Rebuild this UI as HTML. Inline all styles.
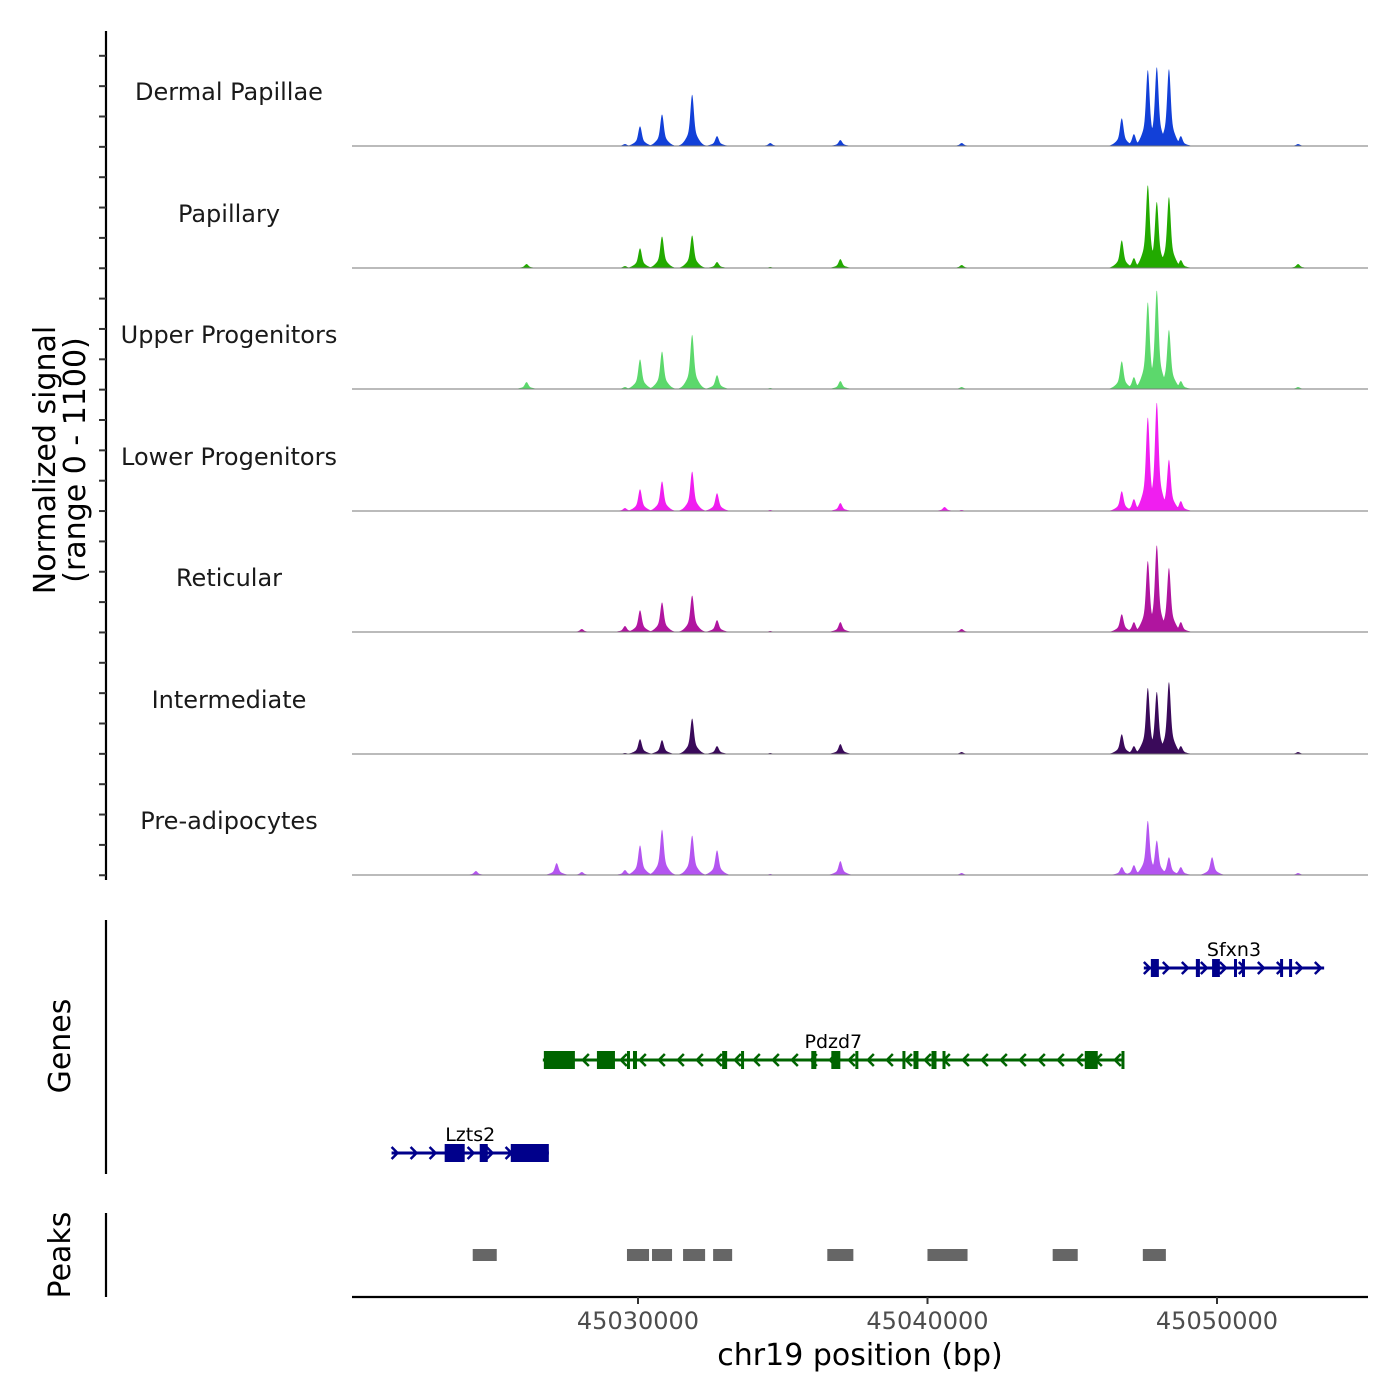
<!DOCTYPE html>
<html><head><meta charset="utf-8"><style>
body{margin:0;background:#fff;}
svg{display:block;font-family:"DejaVu Sans","Liberation Sans",sans-serif;}
</style></head><body>
<svg id="c" width="1400" height="1400" viewBox="0 0 1400 1400"></svg>
<script>
const trackNames=["Dermal Papillae","Papillary","Upper Progenitors","Lower Progenitors","Reticular","Intermediate","Pre-adipocytes"];
const trackColors=["#1240d8","#22aa00","#5cd86c","#f01ef0","#b0159f","#3a0a5a","#b455f0"];
const peakPos=[45024400,45026150,45027190,45028060,45029550,45030070,45030830,45031870,45032730,45034570,45036990,45040590,45041180,45046710,45047130,45047610,45047920,45048340,45048750,45049830,45052800];
const T1=[0,0,0,0,18,180,288,468,90,27,54,0,27,252,108,693,720,702,90,0,18];
const T2=[0,36,0,0,18,180,288,297,54,9,81,0,27,252,90,756,603,648,72,0,36];
const T3=[0,63,0,0,18,270,342,495,126,9,72,0,18,252,108,792,900,540,72,0,18];
const T4=[0,0,0,0,27,198,270,360,162,9,72,36,9,180,108,855,990,468,90,0,0];
const T5=[0,0,0,27,54,198,270,333,108,9,90,0,27,162,90,648,792,585,90,0,0];
const T6=[0,0,0,0,9,135,126,324,72,9,90,0,18,180,72,603,567,657,72,0,18];
const T7=[36,0,108,27,45,270,414,360,225,9,126,0,18,72,90,495,315,162,72,162,18];
const tracks=[T1,T2,T3,T4,T5,T6,T7];
const xTicks=[45030000,45040000,45050000];
const peakStart=[45024291,45029619,45030484,45031557,45032595,45036539,45039999,45044324,45047438];
const peakEnd=[45025121,45030381,45031176,45032318,45033252,45037439,45041383,45045189,45048234];
const geneNames=["Sfxn3","Pdzd7","Lzts2"];
const geneColors=["#00008b","#006400","#00008b"];
const geneStrand=[1,-1,1];
const geneStart=[45047473,45026713,45021488];
const geneEnd=[45053701,45046781,45026920];
const geneRow=[968,1060,1153];
const geneExons=[
 [[45047715,45047992],[45049270,45049410],[45049830,45050100],[45050587,45050656],[45050863,45050933],[45052179,45052248],[45052490,45052560]],
 [[45026748,45027820],[45028581,45029204],[45029619,45029700],[45029827,45029965],[45032906,45033080],[45033560,45033630],[45035986,45036160],[45036678,45036989],[45037508,45037578],[45039134,45039200],[45039515,45039688],[45040138,45040311],[45040518,45040588],[45045432,45045881],[45046700,45046781]],
 [[45023322,45024014],[45024533,45024810],[45025605,45026920]]
];
const G0=45020121,G1=45055216,X0=352,X1=1368;
const NS="http://www.w3.org/2000/svg";
const svg=document.getElementById('c');
function gx(g){return X0+(g-G0)*(X1-X0)/(G1-G0);}
function sy(v,base){return base-v*121/1100;}
function el(t,a,p){const e=document.createElementNS(NS,t);for(const k in a)e.setAttribute(k,a[k]);(p||svg).appendChild(e);return e;}
const baselines=[146,268,389,511,632,754,875];
let ax=el('line',{x1:106,y1:31,x2:106,y2:880,stroke:'#000','stroke-width':2.2});


for(let k=0;k<28;k++){const y=55.8+k*30.35;if(y>880)break;const t=el('line',{x1:99,y1:y,x2:106,y2:y,stroke:'#333','stroke-width':2});

}
let yt=el('text',{x:0,y:0,'font-size':30,'text-anchor':'middle',fill:'#000',transform:'translate(55,460) rotate(-90)'});yt.textContent='Normalized signal';


let yt2=el('text',{x:0,y:0,'font-size':30,'text-anchor':'middle',fill:'#000',transform:'translate(85,460) rotate(-90)'});yt2.textContent='(range 0 - 1100)';


tracks.forEach((vals,ti)=>{
 const base=baselines[ti];
 const g=el('g',{});
 
 
 let pts=[[X0,base]];
 for(let px=X0;px<=X1;px+=0.5){
  const gg=G0+(px-X0)*(G1-G0)/(X1-X0);
  let s=0;
  for(let i=0;i<peakPos.length;i++){
   const d=gg-peakPos[i];
   s=Math.max(s,vals[i]*(0.7*Math.exp(-d*d/(2*55*55))+0.3*Math.exp(-d*d/(2*180*180))));
  }
  pts.push([px,sy(s,base)]);
 }
 pts.push([X1,base]);
 const p=el('path',{d:'M'+pts.map(q=>q[0].toFixed(1)+','+q[1].toFixed(2)).join('L')+'Z',fill:trackColors[ti],stroke:'none'},g);
 
 
 const bl=el('line',{x1:X0,y1:base,x2:X1,y2:base,stroke:'#777','stroke-width':1},g);
 
 
 const lb=el('text',{x:229,y:base-46,'font-size':24,'text-anchor':'middle',fill:'#1a1a1a'},g);lb.textContent=trackNames[ti];
 
 
});
let ga=el('line',{x1:106,y1:920,x2:106,y2:1174,stroke:'#000','stroke-width':2.2});


let gt=el('text',{x:0,y:0,'font-size':30,'text-anchor':'middle',fill:'#000',transform:'translate(70,1046) rotate(-90)'});gt.textContent='Genes';


geneNames.forEach((nm,gi)=>{
 const g=el('g',{});
 
 
 const y=geneRow[gi],c=geneColors[gi],a=gx(geneStart[gi]),b=gx(geneEnd[gi]);
 el('line',{x1:a,y1:y,x2:b,y2:y,stroke:c,'stroke-width':3},g);
 for(let x=a+4;x<b-2;x+=19){
  const dir=geneStrand[gi];
  el('polyline',{points:`${x-4*dir},${y-6} ${x+2*dir},${y} ${x-4*dir},${y+6}`,fill:'none',stroke:c,'stroke-width':2.5},g);
 }
 geneExons[gi].forEach(e=>{
  const ea=gx(e[0]),eb=gx(e[1]);
  const r=el('rect',{x:ea,y:y-9,width:Math.max(3,eb-ea),height:18,fill:c},g);
  
  
 });
 const t=el('text',{x:(a+b)/2,y:y-12,'font-size':19,'text-anchor':'middle',fill:'#000'},g);t.textContent=nm;
 
 
});
let pa=el('line',{x1:106,y1:1213,x2:106,y2:1297,stroke:'#000','stroke-width':2.2});


let pt=el('text',{x:0,y:0,'font-size':30,'text-anchor':'middle',fill:'#000',transform:'translate(70,1255) rotate(-90)'});pt.textContent='Peaks';


peakStart.forEach((s,i)=>{
 const r=el('rect',{x:gx(s),y:1249,width:gx(peakEnd[i])-gx(s),height:12,fill:'#666'});
 
 
});
let xa=el('line',{x1:X0,y1:1297,x2:X1,y2:1297,stroke:'#000','stroke-width':2.2});


xTicks.forEach(v=>{
 const x=gx(v);
 const t=el('line',{x1:x,y1:1297,x2:x,y2:1304,stroke:'#333','stroke-width':2});
 
 
 const l=el('text',{x:x,y:1329,'font-size':24,'text-anchor':'middle',fill:'#4d4d4d'});l.textContent=v;
 
 
});
let xt=el('text',{x:860,y:1365,'font-size':30,'text-anchor':'middle',fill:'#000'});xt.textContent='chr19 position (bp)';


</script>
</body></html>
